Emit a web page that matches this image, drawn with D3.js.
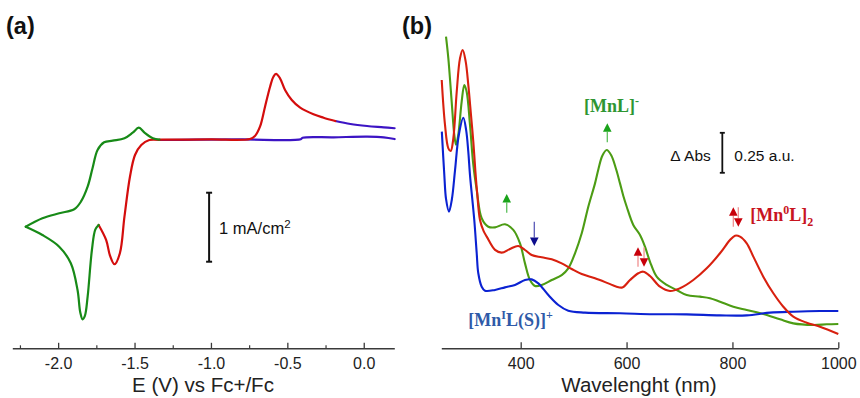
<!DOCTYPE html>
<html>
<head>
<meta charset="utf-8">
<script src="https://cdn.jsdelivr.net/npm/d3@7"></script>
<style>
  body { margin: 0; background: #fff; }
  svg { display: block; }
</style>
</head>
<body>
<svg id="chart" width="860" height="398"></svg>
<script>
// ---------- (a) cyclic voltammogram: [E (V vs Fc+/Fc), j (mA/cm2)] ----------
const cvBlueStart = [[0.202,0.014],[0.131,0.039],[0.022,0.048],[-0.197,0.039],[-0.400,0.033],[-0.412,0.012],[-0.800,0.008],[-1.100,0.004],[-1.337,0.0]];
const cvRedCathodic = [[-1.337,0.0],[-1.403,0.0],[-1.456,-0.072],[-1.497,-0.217],[-1.530,-0.532],[-1.566,-1.112],[-1.596,-1.642],[-1.631,-1.801],[-1.660,-1.68],[-1.686,-1.449],[-1.735,-1.232]];
const cvGreenCathodic = [[-1.735,-1.232],[-1.757,-1.300],[-1.779,-1.594],[-1.807,-2.271],[-1.825,-2.55],[-1.840,-2.599],[-1.855,-2.50],[-1.873,-2.174],[-1.917,-1.787],[-1.993,-1.546],[-2.103,-1.377],[-2.212,-1.257]];
const cvGreenAnodic = [[-2.212,-1.257],[-2.103,-1.135],[-1.993,-1.062],[-1.895,-1.004],[-1.851,-0.894],[-1.807,-0.677],[-1.775,-0.410],[-1.742,-0.145],[-1.699,-0.033],[-1.643,-0.010],[-1.566,0.025],[-1.512,0.106],[-1.472,0.178],[-1.435,0.106],[-1.380,0.025],[-1.337,0.005]];
const cvRedAnodic = [[-1.337,0.005],[-1.000,0.008],[-0.745,0.014],[-0.712,0.058],[-0.679,0.193],[-0.646,0.483],[-0.613,0.772],[-0.591,0.917],[-0.574,0.957],[-0.548,0.894],[-0.515,0.725],[-0.471,0.580],[-0.416,0.468],[-0.329,0.372],[-0.263,0.323],[-0.186,0.275]];
const cvBlueEnd = [[-0.186,0.275],[-0.087,0.232],[0.022,0.203],[0.131,0.184],[0.202,0.170]];
const cvMajorTicks = [-2.0,-1.5,-1.0,-0.5,0.0];
const cvMinorTicks = [-2.25,-1.75,-1.25,-0.75,-0.25];
const cvScaleBar = { e: -1.012, j0: -0.764, j1: -1.764, label: "1 mA/cm", sup: "2" };

// ---------- (b) UV-vis spectra: [wavelength (nm), absorbance (a.u.)] ----------
const specGreen = [[258.9,1.946],[263.3,1.81],[269.6,1.54],[274.6,1.33],[277.8,1.27],[282,1.33],[288.5,1.54],[293.5,1.644],[298,1.60],[304.2,1.394],[310.5,1.144],[316.9,0.988],[326.3,0.811],[338.8,0.758],[351.5,0.754],[370.3,0.773],[386,0.738],[398.7,0.654],[408.1,0.529],[417.6,0.425],[427,0.388],[439.7,0.394],[458.6,0.425],[477.5,0.456],[489.9,0.498],[502.6,0.592],[515.3,0.717],[527.7,0.883],[540.4,1.029],[547,1.12],[554,1.20],[562.5,1.2375],[571,1.205],[580,1.12],[587.6,1.029],[593.9,0.95],[600.3,0.883],[612.7,0.769],[625.4,0.706],[634.8,0.633],[644.3,0.539],[656.9,0.446],[675.8,0.394],[694.7,0.3625],[713.6,0.331],[738.7,0.321],[757.6,0.311],[776.5,0.289],[801.7,0.258],[827,0.2375],[858.3,0.2125],[889.9,0.179],[915,0.154],[952.8,0.144],[978.1,0.148],[1000,0.15]];
const specBlue = [[251,1.352],[255.7,1.081],[259,0.93],[264.5,0.852],[270,0.93],[276,1.113],[283,1.33],[291.6,1.439],[297,1.36],[301,1.227],[304.2,1.081],[312.3,0.80],[316.9,0.592],[319.9,0.467],[326.3,0.383],[332.6,0.358],[351.5,0.363],[370.3,0.379],[389.2,0.394],[408.1,0.425],[420.8,0.429],[433.3,0.404],[452.2,0.331],[471.1,0.269],[489.9,0.233],[521.5,0.221],[587.6,0.217],[650.5,0.211],[713.6,0.210],[776.5,0.204],[827,0.204],[871,0.221],[915,0.227],[965.4,0.231],[1000,0.231]];
const specRed = [[250.8,1.675],[257,1.394],[263.3,1.248],[267.8,1.231],[272.7,1.31],[279.1,1.60],[285.3,1.81],[290.4,1.8625],[296.1,1.79],[301,1.644],[306.1,1.456],[310.5,1.289],[314.5,1.10],[318,0.96],[323.1,0.8],[330,0.73],[335.8,0.696],[351.5,0.613],[364.1,0.596],[379.8,0.619],[395.5,0.6375],[408.1,0.6125],[420.8,0.581],[439.7,0.567],[458.6,0.554],[477.5,0.529],[496.4,0.494],[515.3,0.4625],[540.4,0.436],[565.5,0.404],[580,0.385],[592,0.378],[606.5,0.425],[622.2,0.467],[631.6,0.477],[644.3,0.45],[663.2,0.383],[682.1,0.356],[700.9,0.373],[726.1,0.425],[751.4,0.498],[776.5,0.592],[795.4,0.675],[804.9,0.702],[814.3,0.696],[827,0.654],[839.5,0.571],[858.3,0.446],[877.3,0.342],[896.1,0.258],[915,0.196],[940.3,0.158],[965.4,0.133],[1000,0.0875]];
const specTicks = [400,600,800,1000];
const absScaleBar = { nm: 780.9, a0: 1.345, a1: 1.095, left: "\u0394 Abs", right: "0.25 a.u." };

// arrows: up (tip above tail) or down, in data units
const specArrows = [
  { nm: 373.6, tail: 0.846, tip: 0.9625, color: "#1aa31a", shaft: "#5cc05c" },
  { nm: 425.7, tail: 0.789, tip: 0.6375, color: "#0d0d8c", shaft: "#5a5ab8" },
  { nm: 563.6, tail: 1.286, tip: 1.404, color: "#1aa31a", shaft: "#5cc05c" },
  { nm: 621.6, tail: 0.508, tip: 0.629, color: "#c8000a", shaft: "#f09090" },
  { nm: 633.0, tail: 0.629, tip: 0.508, color: "#c8000a", shaft: "#f09090" },
  { nm: 801.7, tail: 0.758, tip: 0.879, color: "#c8000a", shaft: "#f09090" },
  { nm: 811.1, tail: 0.879, tip: 0.758, color: "#c8000a", shaft: "#f09090" }
];
const specLabels = [
  { nm: 519.6, a: 1.475, color: "#2e9632", parts: [["[MnL]",0],["-",-7]] },
  { nm: 833.5, a: 0.794, color: "#c8141e", parts: [["[Mn",0],["0",-7],["L]",0],["2",5]] },
  { nm: 301.0, a: 0.1375, color: "#2f5aa8", parts: [["[Mn",0],["I",-7],["L(S)]",0],["+",-7]] }
];

// ---------- drawing ----------
const svg = d3.select("#chart");
const axisColor = "#3a3a3a";
const sansFont = "'Liberation Sans', Arial, sans-serif";
const serifFont = "'Liberation Serif', 'Times New Roman', serif";

// panel letters
svg.append("text").attr("x", 6).attr("y", 34).text("(a)")
  .attr("font-family", sansFont).attr("font-weight", "bold").attr("font-size", 23.5).attr("fill", "#111");
svg.append("text").attr("x", 402).attr("y", 34).text("(b)")
  .attr("font-family", sansFont).attr("font-weight", "bold").attr("font-size", 23.5).attr("fill", "#111");

function styleAxis(g) {
  g.select(".domain").attr("stroke", axisColor).attr("stroke-width", 1.6);
  g.selectAll(".tick line").attr("stroke", axisColor).attr("stroke-width", 1.3);
  g.selectAll(".tick text").attr("fill", "#222").attr("font-family", sansFont).attr("font-size", 16);
}

// ===== panel (a) =====
const axisYa = 348.3;
const xA = d3.scaleLinear().domain([-2.3, 0.2]).range([12.3, 394.3]);
const yA = d3.scaleLinear().domain([0, 1]).range([140, 71]);

const gAx = svg.append("g").attr("transform", `translate(0,${axisYa})`)
  .call(d3.axisBottom(xA).tickValues(cvMajorTicks).tickSize(-5.5).tickSizeOuter(0).tickPadding(9)
    .tickFormat(d => d.toFixed(1)));
styleAxis(gAx);
svg.append("g").attr("transform", `translate(0,${axisYa})`)
  .call(d3.axisBottom(xA).tickValues(cvMinorTicks).tickSize(-3).tickSizeOuter(0).tickFormat(""))
  .call(g => { g.select(".domain").remove(); g.selectAll(".tick line").attr("stroke", axisColor).attr("stroke-width", 1.2); });

svg.append("text").attr("x", 203).attr("y", 391.5).attr("text-anchor", "middle")
  .attr("font-family", sansFont).attr("font-size", 20.5).attr("fill", "#222")
  .text("E (V) vs Fc+/Fc");

const cvLine = d3.line().x(d => xA(d[0])).y(d => yA(d[1])).curve(d3.curveCatmullRom.alpha(0.5));
const cvSegments = [
  [cvBlueStart, "#3c14c4"], [cvBlueEnd, "#3c14c4"],
  [cvRedCathodic, "#d40d0d"], [cvRedAnodic, "#d40d0d"],
  [cvGreenCathodic, "#178a17"], [cvGreenAnodic, "#178a17"]
];
svg.append("g").selectAll("path").data(cvSegments).join("path")
  .attr("d", d => cvLine(d[0])).attr("fill", "none").attr("stroke", d => d[1])
  .attr("stroke-width", 2.2).attr("stroke-linejoin", "round").attr("stroke-linecap", "round");

// current scale bar
{
  const bx = xA(cvScaleBar.e), by0 = yA(cvScaleBar.j0), by1 = yA(cvScaleBar.j1);
  const g = svg.append("g").attr("stroke", "#111").attr("stroke-width", 2);
  g.append("line").attr("x1", bx).attr("x2", bx).attr("y1", by0).attr("y2", by1);
  g.append("line").attr("x1", bx - 3).attr("x2", bx + 3).attr("y1", by0).attr("y2", by0);
  g.append("line").attr("x1", bx - 3).attr("x2", bx + 3).attr("y1", by1).attr("y2", by1);
  const t = svg.append("text").attr("x", bx + 10).attr("y", (by0 + by1) / 2 + 7)
    .attr("font-family", sansFont).attr("font-size", 16.5).attr("fill", "#111").text(cvScaleBar.label);
  t.append("tspan").attr("dy", -6).attr("font-size", 11.5).text(cvScaleBar.sup);
}

// ===== panel (b) =====
const axisYb = 348.3;
const xB = d3.scaleLinear().domain([250, 1000]).range([441.3, 838.3]);
const yB = d3.scaleLinear().domain([0, 2]).range([348, 28]);

const gBx = svg.append("g").attr("transform", `translate(0,${axisYb})`)
  .call(d3.axisBottom(xB).tickValues(specTicks).tickSize(-6).tickSizeOuter(0).tickPadding(9)
    .tickFormat(d3.format("d")));
styleAxis(gBx);

svg.append("text").attr("x", 639).attr("y", 391.5).attr("text-anchor", "middle")
  .attr("font-family", sansFont).attr("font-size", 20.5).attr("fill", "#222")
  .text("Wavelenght (nm)");

const specLine = d3.line().x(d => xB(d[0])).y(d => yB(d[1])).curve(d3.curveCatmullRom.alpha(0.5));
const spectra = [[specGreen, "#4c9c14"], [specBlue, "#0b22d2"], [specRed, "#d8200f"]];
svg.append("g").selectAll("path").data(spectra).join("path")
  .attr("d", d => specLine(d[0])).attr("fill", "none").attr("stroke", d => d[1])
  .attr("stroke-width", 2.1).attr("stroke-linejoin", "round");

// absorbance scale bar
{
  const bx = xB(absScaleBar.nm), by0 = yB(absScaleBar.a0), by1 = yB(absScaleBar.a1);
  const g = svg.append("g").attr("stroke", "#111").attr("stroke-width", 1.8);
  g.append("line").attr("x1", bx).attr("x2", bx).attr("y1", by0).attr("y2", by1);
  g.append("line").attr("x1", bx - 2.5).attr("x2", bx + 2.5).attr("y1", by0).attr("y2", by0);
  g.append("line").attr("x1", bx - 2.5).attr("x2", bx + 2.5).attr("y1", by1).attr("y2", by1);
  const ty = (by0 + by1) / 2 + 8.5;
  svg.append("text").attr("x", bx - 11.5).attr("y", ty).attr("text-anchor", "end")
    .attr("font-family", sansFont).attr("font-size", 15.5).attr("fill", "#111").text(absScaleBar.left);
  svg.append("text").attr("x", bx + 12).attr("y", ty)
    .attr("font-family", sansFont).attr("font-size", 15.5).attr("fill", "#111").text(absScaleBar.right);
}

// change arrows
const arrowG = svg.append("g");
specArrows.forEach(a => {
  const x = xB(a.nm), yTail = yB(a.tail), yTip = yB(a.tip);
  const dir = yTip < yTail ? -1 : 1;     // -1 = pointing up
  const headLen = 8.5, headHalf = 4.3;
  const yBase = yTip - dir * headLen;
  arrowG.append("line").attr("x1", x).attr("x2", x).attr("y1", yTail).attr("y2", yBase)
    .attr("stroke", a.shaft).attr("stroke-width", 1.3);
  arrowG.append("path")
    .attr("d", `M${x},${yTip}L${x - headHalf},${yBase}L${x + headHalf},${yBase}Z`)
    .attr("fill", a.color);
});

// species labels
specLabels.forEach(l => {
  const t = svg.append("text").attr("x", xB(l.nm)).attr("y", yB(l.a))
    .attr("font-family", serifFont).attr("font-weight", "bold").attr("font-size", 18).attr("fill", l.color);
  let prev = 0;
  l.parts.forEach(([s, shift]) => {
    t.append("tspan").attr("dy", shift - prev).attr("font-size", shift === 0 ? 18 : 12).text(s);
    prev = shift;
  });
});
</script>
</body>
</html>
